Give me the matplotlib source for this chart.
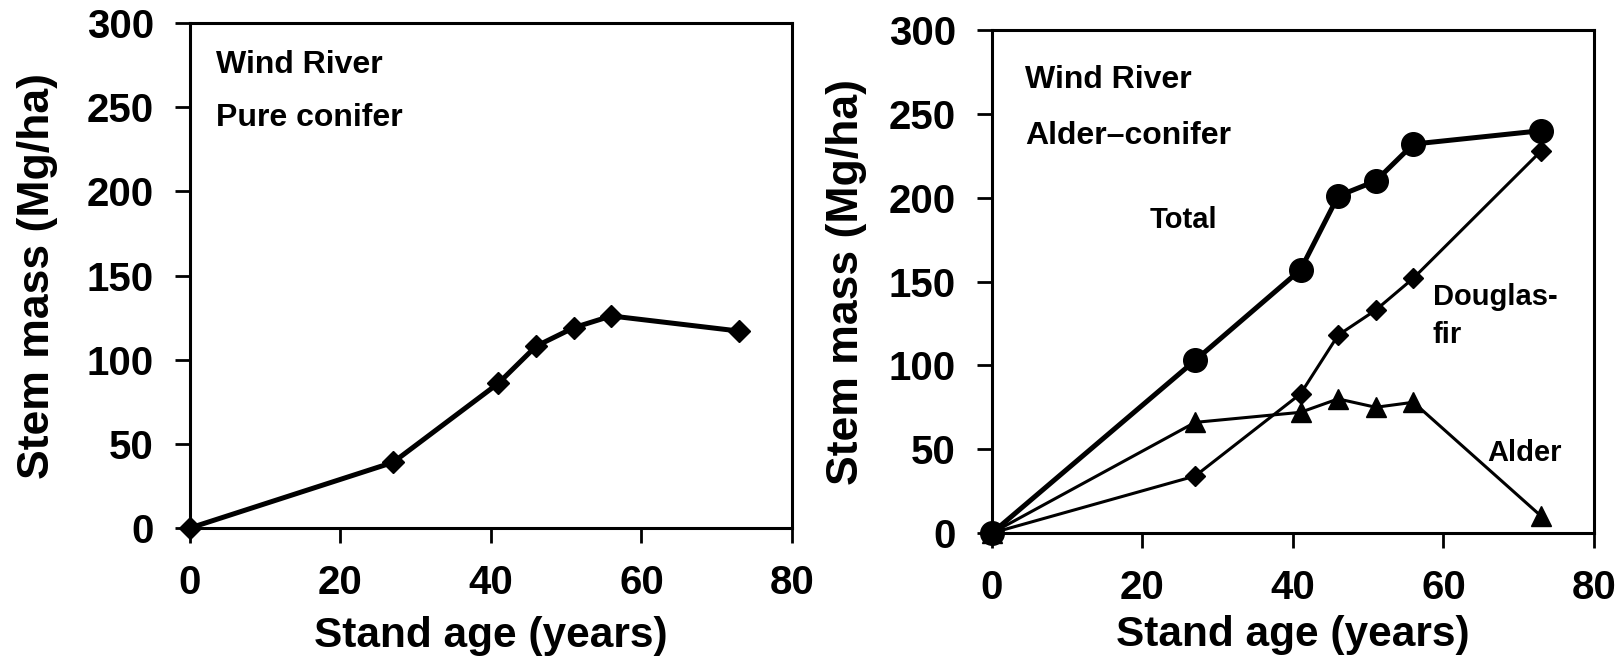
import matplotlib
matplotlib.use("Agg")
import matplotlib.pyplot as plt

# stand age (years) and stem mass (Mg/ha), Wind River sites
age = [0, 27, 41, 46, 51, 56, 73]
pure_conifer = [0, 39, 86, 108, 119, 126, 117]
mixed_total = [0, 103, 157, 201, 210, 232, 240]
mixed_douglas_fir = [0, 34, 83, 118, 133, 152, 228]
mixed_alder = [0, 66, 72, 80, 75, 78, 10]

xticks = [0, 20, 40, 60, 80]
yticks = [0, 50, 100, 150, 200, 250, 300]

plt.rcParams['font.family'] = ['Liberation Sans', 'DejaVu Sans']
plt.rcParams['font.weight'] = 'bold'

fig = plt.figure(figsize=(16.22, 6.6), dpi=100)
ax1 = fig.add_axes([0.1171, 0.2, 0.3711, 0.765])
ax2 = fig.add_axes([0.6116, 0.1924, 0.3711, 0.762])


def style(ax, xpad, ypad):
    ax.set_xlim(0, 80)
    ax.set_ylim(0, 300)
    ax.set_xticks(xticks)
    ax.set_yticks(yticks)
    for s in ax.spines.values():
        s.set_linewidth(2.2)
    ax.tick_params(direction='out', length=11, width=2, labelsize=29, pad=15,
                   top=False, right=False)
    for lab in ax.get_xticklabels() + ax.get_yticklabels():
        lab.set_fontweight('bold')
    ax.set_xlabel('Stand age (years)', fontsize=30.5, fontweight='bold', labelpad=xpad)
    ax.set_ylabel('Stem mass (Mg/ha)', fontsize=32, fontweight='bold', labelpad=ypad)


# pure conifer stand
ax1.plot(age, pure_conifer, color='black', lw=3.6, marker='D', ms=11,
         clip_on=False, zorder=5)
ax1.text(3.4, 275, 'Wind River', fontsize=23, fontweight='bold', va='center')
ax1.text(3.4, 243.5, 'Pure conifer', fontsize=23, fontweight='bold', va='center')
style(ax1, 10, 21)

# alder-conifer stand
ax2.plot(age, mixed_total, color='black', lw=3.6, marker='o', ms=17,
         clip_on=False, zorder=5)
ax2.plot(age, mixed_douglas_fir, color='black', lw=2.2, marker='D', ms=10.5,
         clip_on=False, zorder=6)
ax2.plot(age, mixed_alder, color='black', lw=2.2, marker='^', ms=15,
         clip_on=False, zorder=6)
ax2.text(4.4, 270, 'Wind River', fontsize=23, fontweight='bold', va='center')
ax2.text(4.4, 237, 'Alder\u2013conifer', fontsize=23, fontweight='bold', va='center')
ax2.text(21, 187, 'Total', fontsize=21, fontweight='bold', va='center')
ax2.text(58.6, 140.5, 'Douglas-', fontsize=21, fontweight='bold', va='center')
ax2.text(58.6, 118, 'fir', fontsize=21, fontweight='bold', va='center')
ax2.text(65.8, 47.7, 'Alder', fontsize=21, fontweight='bold', va='center')
style(ax2, 6, 16)

fig.savefig('out.png', dpi=100)
